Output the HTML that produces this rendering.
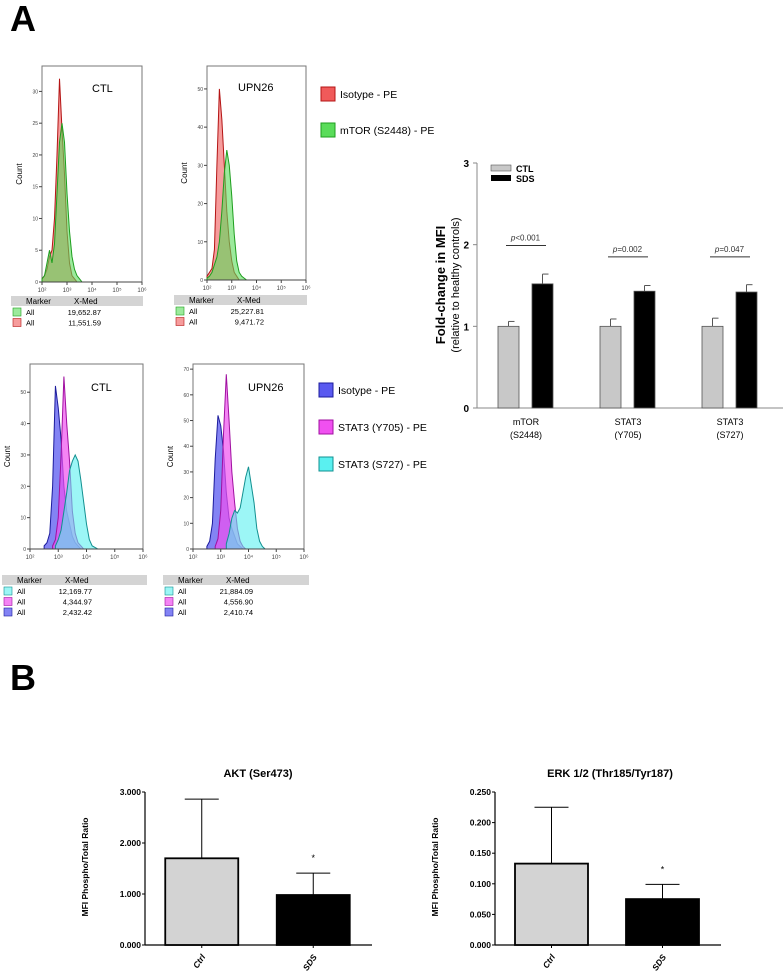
<!DOCTYPE html>
<html><head><meta charset="utf-8"><style>
body{margin:0;background:#fff;overflow:hidden;}
svg{display:block;font-family:"Liberation Sans",Arial,sans-serif;}
</style></head><body>
<svg id="fig" width="784" height="979" viewBox="0 0 784 979" xmlns="http://www.w3.org/2000/svg">
<text x="10" y="31" font-size="36" font-weight="bold">A</text>
<text x="10" y="690" font-size="36" font-weight="bold">B</text>
<g id="hists"></g>
<g id="barA"></g>
<g id="akt"></g>
<g id="erk"></g>
</svg>
<script>
const NS="http://www.w3.org/2000/svg";
function mk(p,t,a,txt){const e=document.createElementNS(NS,t);for(const k in a)e.setAttribute(k,a[k]);if(txt!==undefined)e.textContent=txt;p.appendChild(e);return e;}

// ---------- Histogram data (counts per 0.1-decade bin, start log10) ----------
const mtorCtlIso=[0.5,1,2,4,5,10,20,32,24,17,8,3,1,0.5,0];
const mtorCtlIsoStart=2.0;
const mtorCtlPos=[0.5,1,3,5,3,6,14,22,25,22,14,8,4,2,1,0.5,0];
const mtorCtlPosStart=2.0;
const mtorUpnIso=[1,2,3,8,30,50,42,30,18,10,5,2,1,0];
const mtorUpnIsoStart=2.0;
const mtorUpnPos=[0.5,1,2,4,6,10,18,28,34,30,22,12,5,2,1,0.5,0];
const mtorUpnPosStart=2.0;
const statCtlIso=[1,2,5,20,52,45,35,20,12,8,4,2,1,0];
const statCtlIsoStart=2.5;
const statCtlY705=[1,3,10,30,55,40,28,12,5,2,1,0];
const statCtlY705Start=2.8;
const statCtlS727=[1,3,6,12,18,25,28,30,28,22,15,8,3,1,0.5,0];
const statCtlS727Start=2.9;
const statUpnIso=[1,3,10,35,52,48,38,22,12,8,5,2,1,0];
const statUpnIsoStart=2.5;
const statUpnY705=[1,4,15,45,68,50,30,18,8,3,1,0];
const statUpnY705Start=2.8;
const statUpnS727=[2,6,12,15,14,16,22,28,32,25,18,8,3,1,0];
const statUpnS727Start=3.2;

const RED={f:"rgba(240,90,90,0.6)",s:"#b41414"},GRN={f:"rgba(90,220,90,0.6)",s:"#1e9e1e"};
const BLU={f:"rgba(90,90,240,0.75)",s:"#1c1c9c"},MAG={f:"rgba(240,80,240,0.7)",s:"#a010a0"},CYN={f:"rgba(90,240,240,0.6)",s:"#119090"};

function hist(box,ymax,yticks,series,label){
  const g=mk(document.getElementById('hists'),'g',{});
  
  
  const xs=v=>box.x0+(v-2)/4*(box.x1-box.x0);
  const ys=v=>box.y1-v/ymax*(box.y1-box.y0);
  mk(g,'rect',{x:box.x0,y:box.y0,width:box.x1-box.x0,height:box.y1-box.y0,fill:'#fff',stroke:'#777','stroke-width':1});
  series.forEach(s=>{
    let d='M'+xs(s.start)+','+ys(0);
    s.data.forEach((v,i)=>{d+=' L'+xs(s.start+i*0.1)+','+ys(v);});
    d+=' L'+xs(s.start+(s.data.length-1)*0.1)+','+ys(0)+' Z';
    const p=mk(g,'path',{d:d,fill:s.c.f,stroke:s.c.s,'stroke-width':1});
    
    
  });
  mk(g,'line',{x1:box.x0,y1:box.y1,x2:box.x1,y2:box.y1,stroke:'#444'});
  yticks.forEach(t=>{mk(g,'line',{x1:box.x0-3,y1:ys(t),x2:box.x0,y2:ys(t),stroke:'#444'});
    mk(g,'text',{x:box.x0-4,y:ys(t)+2,'font-size':5,'text-anchor':'end',fill:'#444'},t);});
  ['10²','10³','10⁴','10⁵','10⁶'].forEach((t,i)=>{mk(g,'line',{x1:xs(2+i),y1:box.y1,x2:xs(2+i),y2:box.y1+3,stroke:'#444'});
    mk(g,'text',{x:xs(2+i),y:box.y1+10,'font-size':6,'text-anchor':'middle',fill:'#444'},t);});
  mk(g,'text',{x:box.x0-20,y:(box.y0+box.y1)/2,'font-size':8,'text-anchor':'middle',transform:`rotate(-90 ${box.x0-20} ${(box.y0+box.y1)/2})`},'Count');
  mk(g,'text',{x:box.tx,y:box.ty,'font-size':11},box.title);
}
function table(x,y,w,rows){
  const g=mk(document.getElementById('hists'),'g',{});
  
  
  mk(g,'rect',{x:x,y:y,width:w,height:10,fill:'#d4d4d4'});
  mk(g,'text',{x:x+15,y:y+8,'font-size':8},'Marker');
  mk(g,'text',{x:x+63,y:y+8,'font-size':8},'X-Med');
  rows.forEach((r,i)=>{const yy=y+12+i*10.5;
    mk(g,'rect',{x:x+2,y:yy,width:8,height:8,fill:r.c.f,stroke:r.c.s,'stroke-width':0.6});
    mk(g,'text',{x:x+15,y:yy+7,'font-size':7.5},'All');
    mk(g,'text',{x:x+90,y:yy+7,'font-size':7.5,'text-anchor':'end'},r.v);});
}
function legend(x,items){
  items.forEach(it=>{const g=mk(document.getElementById('hists'),'g',{});
    
    
    mk(g,'rect',{x:x,y:it.y-7,width:14,height:14,fill:it.c.f.replace(/0\.\d+\)/,'1)'),stroke:it.c.s,'stroke-width':1});
    mk(g,'text',{x:x+19,y:it.y+4,'font-size':10.5},it.t);});
}
hist({x0:42,x1:142,y0:66,y1:282,tx:92,ty:92,title:'CTL'},34,[0,5,10,15,20,25,30],[{data:mtorCtlIso,start:mtorCtlIsoStart,c:RED},{data:mtorCtlPos,start:mtorCtlPosStart,c:GRN}],'mtor-ctl');
hist({x0:207,x1:306,y0:66,y1:280,tx:238,ty:91,title:'UPN26'},56,[0,10,20,30,40,50],[{data:mtorUpnIso,start:mtorUpnIsoStart,c:RED},{data:mtorUpnPos,start:mtorUpnPosStart,c:GRN}],'mtor-upn26');
hist({x0:30,x1:143,y0:364,y1:549,tx:91,ty:391,title:'CTL'},59,[0,10,20,30,40,50],[{data:statCtlIso,start:statCtlIsoStart,c:BLU},{data:statCtlY705,start:statCtlY705Start,c:MAG},{data:statCtlS727,start:statCtlS727Start,c:CYN}],'stat3-ctl');
hist({x0:193,x1:304,y0:364,y1:549,tx:248,ty:391,title:'UPN26'},72,[0,10,20,30,40,50,60,70],[{data:statUpnIso,start:statUpnIsoStart,c:BLU},{data:statUpnY705,start:statUpnY705Start,c:MAG},{data:statUpnS727,start:statUpnS727Start,c:CYN}],'stat3-upn26');
table(11,296,132,[{c:GRN,v:'19,652.87'},{c:RED,v:'11,551.59'}]);
table(174,295,133,[{c:GRN,v:'25,227.81'},{c:RED,v:'9,471.72'}]);
table(2,575,145,[{c:CYN,v:'12,169.77'},{c:MAG,v:'4,344.97'},{c:BLU,v:'2,432.42'}]);
table(163,575,146,[{c:CYN,v:'21,884.09'},{c:MAG,v:'4,556.90'},{c:BLU,v:'2,410.74'}]);
legend(321,[{y:94,c:RED,t:'Isotype - PE'},{y:130,c:GRN,t:'mTOR (S2448) - PE'}]);
legend(319,[{y:390,c:BLU,t:'Isotype - PE'},{y:427,c:MAG,t:'STAT3 (Y705) - PE'},{y:464,c:CYN,t:'STAT3 (S727) - PE'}]);

// ---------- Fold-change bar chart ----------
const fcCategories=['mTOR|(S2448)','STAT3|(Y705)','STAT3|(S727)'];
const fcCtl=[1.0,1.0,1.0];
const fcCtlErr=[0.06,0.09,0.10];
const fcSds=[1.52,1.43,1.42];
const fcSdsErr=[0.12,0.07,0.09];
const fcP=['<0.001','=0.002','=0.047'];
const fcPLevel=[1.99,1.85,1.85];
const fcTicks=[0,1,2,3];
(function(){
  const g=document.getElementById('barA');
  const X0=477,X1=783,Y0=408,Y1=163;
  const ys=v=>Y0-v/3*(Y0-Y1);
  mk(g,'line',{x1:X0,y1:Y1,x2:X0,y2:Y0,stroke:'#888'});
  mk(g,'line',{x1:X0,y1:Y0,x2:X1,y2:Y0,stroke:'#888'});
  fcTicks.forEach(t=>{mk(g,'line',{x1:X0-4,y1:ys(t),x2:X0,y2:ys(t),stroke:'#888'});
    mk(g,'text',{x:X0-8,y:ys(t)+4,'font-size':10,'font-weight':'bold','text-anchor':'end'},t);});
  mk(g,'text',{x:445,y:285,'font-size':13,'font-weight':'bold','text-anchor':'middle',transform:'rotate(-90 445 285)'},'Fold-change in MFI');
  mk(g,'text',{x:459,y:285,'font-size':11,'text-anchor':'middle',transform:'rotate(-90 459 285)'},'(relative to healthy controls)');
  const centers=[530,632,735];
  fcCategories.forEach((c,i)=>{
    const cx=X0+(X1-X0)*(i+0.5)/3-2;
    const bw=21;
    const x1=cx-bw-7,x2=cx+6;
    [[x1,fcCtl[i],fcCtlErr[i],'#c8c8c8','bar-ctl'],[x2,fcSds[i],fcSdsErr[i],'#000','bar-sds']].forEach(b=>{
      const r=mk(g,'rect',{x:b[0],y:ys(b[1]),width:bw,height:Y0-ys(b[1]),fill:b[3],stroke:'#555','stroke-width':0.8});
      
      
      const mx=b[0]+bw/2;
      mk(g,'line',{x1:mx,y1:ys(b[1]),x2:mx,y2:ys(b[1]+b[2]),stroke:'#555'});
      mk(g,'line',{x1:mx,y1:ys(b[1]+b[2]),x2:mx+6,y2:ys(b[1]+b[2]),stroke:'#555'});
    });
    const py=ys(fcPLevel[i]);
    mk(g,'line',{x1:x1+8,y1:py,x2:x2+bw-7,y2:py,stroke:'#333'});
    const t=mk(g,'text',{x:(x1+x2+bw)/2,y:py-5,'font-size':8,'text-anchor':'middle',fill:'#333'});
    mk(t,'tspan',{'font-style':'italic'},'p');mk(t,'tspan',{},fcP[i]);
    const parts=c.split('|');
    mk(g,'text',{x:cx,y:425,'font-size':9,'text-anchor':'middle'},parts[0]);
    mk(g,'text',{x:cx,y:438,'font-size':9,'text-anchor':'middle'},parts[1]);
  });
  const lg=mk(g,'g',{});
  
  
  mk(lg,'rect',{x:491,y:165,width:20,height:6,fill:'#c8c8c8',stroke:'#555','stroke-width':0.6});
  mk(lg,'text',{x:516,y:172,'font-size':9,'font-weight':'bold'},'CTL');
  mk(lg,'rect',{x:491,y:175,width:20,height:6,fill:'#000'});
  mk(lg,'text',{x:516,y:182,'font-size':9,'font-weight':'bold'},'SDS');
})();

// ---------- Panel B ----------
const bCategories=['Ctrl','SDS'];
const aktValues=[1.70,0.98];
const aktErr=[1.16,0.43];
const aktTicks=['0.000','1.000','2.000','3.000'];
const erkValues=[0.133,0.075];
const erkErr=[0.092,0.024];
const erkTicks=['0.000','0.050','0.100','0.150','0.200','0.250'];
function bchart(id,title,ax,axEnd,ymax,ticks,vals,errs,tcx){
  const g=document.getElementById(id);
  const Y0=945,Y1=792;
  const ys=v=>Y0-v/ymax*(Y0-Y1);
  mk(g,'text',{x:tcx,y:777,'font-size':11,'font-weight':'bold','text-anchor':'middle'},title);
  mk(g,'line',{x1:ax,y1:Y1,x2:ax,y2:Y0,stroke:'#000','stroke-width':1.2});
  mk(g,'line',{x1:ax,y1:Y0,x2:axEnd,y2:Y0,stroke:'#000','stroke-width':1.2});
  ticks.forEach(t=>{const y=ys(parseFloat(t));
    mk(g,'line',{x1:ax-3,y1:y,x2:ax,y2:y,stroke:'#000','stroke-width':1});
    mk(g,'text',{x:ax-4,y:y+3,'font-size':8.5,'font-weight':'bold','text-anchor':'end'},t);});
  mk(g,'text',{x:ax-57,y:867,'font-size':8.5,'font-weight':'bold','text-anchor':'middle',transform:`rotate(-90 ${ax-57} 867)`},'MFI Phospho/Total Ratio');
  const w=(axEnd-ax)/2;
  bCategories.forEach((c,i)=>{
    const cx=ax+w*(i+0.5)-(i?2:0);const bw=73;
    const r=mk(g,'rect',{x:cx-bw/2,y:ys(vals[i]),width:bw,height:Y0-ys(vals[i]),fill:i?'#000':'#d3d3d3',stroke:'#000','stroke-width':1.8});
    
    
    const te=ys(vals[i]+errs[i]);
    mk(g,'line',{x1:cx,y1:ys(vals[i]),x2:cx,y2:te,stroke:'#000','stroke-width':1});
    mk(g,'line',{x1:cx-17,y1:te,x2:cx+17,y2:te,stroke:'#000','stroke-width':1});
    mk(g,'line',{x1:cx,y1:Y0,x2:cx,y2:Y0+3,stroke:'#000'});
    mk(g,'text',{x:cx+4,y:Y0+12,'font-size':8.5,'font-weight':'bold','font-style':'italic','text-anchor':'end',transform:`rotate(-55 ${cx+4} ${Y0+12})`},c);
    if(i===1) mk(g,'text',{x:cx,y:te-12,'font-size':9,'text-anchor':'middle'},'*');
  });
}
bchart('akt','AKT (Ser473)',145,372,3,aktTicks,aktValues,aktErr,258);
bchart('erk','ERK 1/2 (Thr185/Tyr187)',495,721,0.25,erkTicks,erkValues,erkErr,610);
</script>
</body></html>
